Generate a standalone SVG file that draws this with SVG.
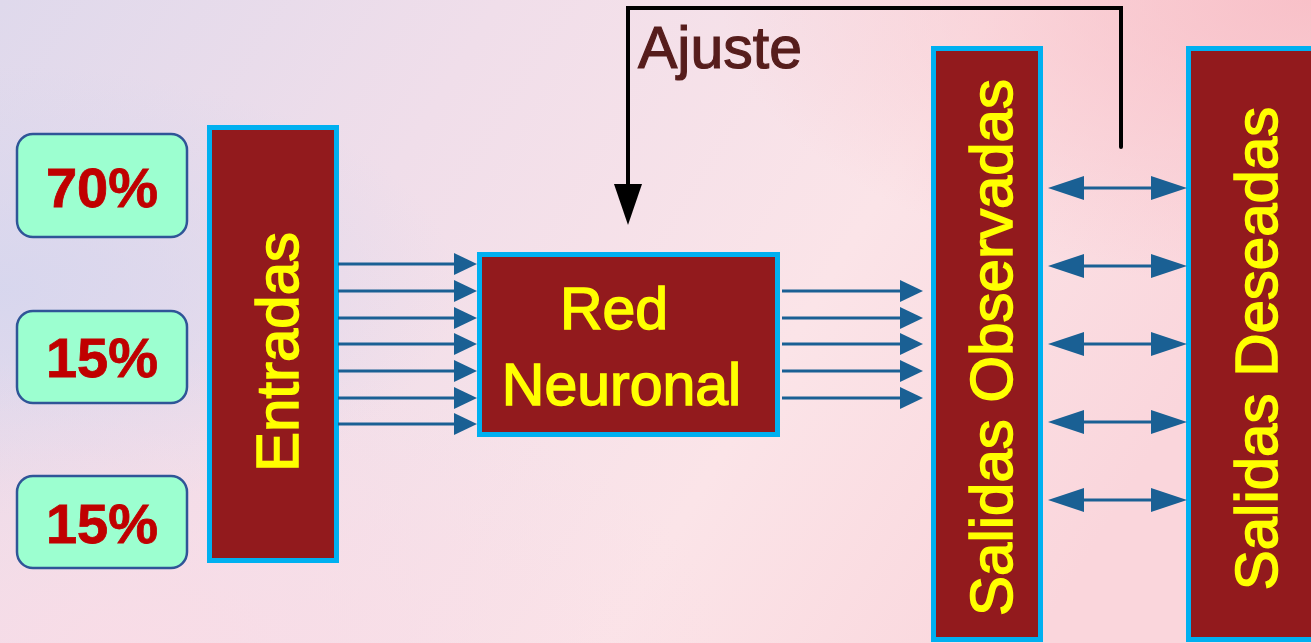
<svg xmlns="http://www.w3.org/2000/svg" width="1311" height="643" viewBox="0 0 1311 643">
  <defs>
    <linearGradient id="bg" x1="0" y1="0" x2="1" y2="0.3">
      <stop offset="0" stop-color="#DFD9EC"/>
      <stop offset="0.35" stop-color="#F0DEEA"/>
      <stop offset="0.7" stop-color="#FBE4E8"/>
      <stop offset="1" stop-color="#FAD6DC"/>
    </linearGradient>
    <radialGradient id="lm" cx="0" cy="0.45" r="0.35">
      <stop offset="0" stop-color="#D6D6EE" stop-opacity="0.9"/>
      <stop offset="1" stop-color="#D6D6EE" stop-opacity="0"/>
    </radialGradient>
    <radialGradient id="tr" cx="1" cy="0" r="0.45">
      <stop offset="0" stop-color="#F8BEC6" stop-opacity="0.9"/>
      <stop offset="1" stop-color="#F8BEC6" stop-opacity="0"/>
    </radialGradient>
    <radialGradient id="bl" cx="0.1" cy="1" r="0.45">
      <stop offset="0" stop-color="#F9DCE6" stop-opacity="0.9"/>
      <stop offset="1" stop-color="#F9DCE6" stop-opacity="0"/>
    </radialGradient>
    <marker id="ah" markerUnits="userSpaceOnUse" markerWidth="23" markerHeight="22" viewBox="0 0 23 22" refX="11" refY="11" orient="auto">
      <path d="M0,0 L23,11 L0,22 z" fill="#1A6094"/>
    </marker>
    <marker id="dh" markerUnits="userSpaceOnUse" markerWidth="36" markerHeight="24" viewBox="0 0 36 24" refX="22" refY="12" orient="auto-start-reverse">
      <path d="M0,0 L36,12 L0,24 z" fill="#1A6094"/>
    </marker>
  </defs>
  <style>
    .pct { fill: #9CFFD0; stroke: #2F5597; stroke-width: 2.5; }
    .pt { font-family: "Liberation Sans", Arial, sans-serif; font-weight: bold; font-size: 56px; fill: #C00000; stroke: #C00000; stroke-width: 0.8px; text-anchor: middle; }
    .blk { fill: #921A1D; stroke: #00B0F0; stroke-width: 5; }
    .yt { font-family: "Liberation Sans", Arial, sans-serif; font-size: 60px; fill: #FFFF00; stroke: #FFFF00; stroke-width: 1.5px; text-anchor: middle; }
    .aj { font-family: "Liberation Sans", Arial, sans-serif; font-size: 59px; fill: #561D1C; stroke: #561D1C; stroke-width: 1.2px; }
    .ar { stroke: #1A6094; stroke-width: 3; fill: none; marker-end: url(#ah); }
    .da { stroke: #1A6094; stroke-width: 3; fill: none; marker-start: url(#dh); marker-end: url(#dh); }
  </style>
  <rect width="1311" height="643" fill="url(#bg)"/>
  <rect width="1311" height="643" fill="url(#lm)"/>
  <rect width="1311" height="643" fill="url(#tr)"/>
  <rect width="1311" height="643" fill="url(#bl)"/>

  <g id="pct70">
    <rect class="pct" x="17" y="134" width="170" height="103" rx="16"/>
    <text class="pt" x="102" y="207">70%</text>
  </g>
  <g id="pct15a">
    <rect class="pct" x="17" y="311" width="170" height="92" rx="16"/>
    <text class="pt" x="102" y="377">15%</text>
  </g>
  <g id="pct15b">
    <rect class="pct" x="17" y="476" width="170" height="92" rx="16"/>
    <text class="pt" x="102" y="543">15%</text>
  </g>

  <g id="entradas">
    <rect class="blk" x="209.5" y="127.5" width="127" height="433"/>
    <text class="yt" transform="translate(298,352) rotate(-90)">Entradas</text>
  </g>

  <g id="red-neuronal">
    <rect class="blk" x="479.5" y="254.5" width="298" height="180"/>
    <text class="yt" x="614" y="329" style="font-size:59px">Red</text>
    <text class="yt" x="621.5" y="405" style="font-size:59px">Neuronal</text>
  </g>

  <g id="salidas-observadas">
    <rect class="blk" x="933.5" y="48.5" width="107" height="591"/>
    <text class="yt" transform="translate(1012,347.5) rotate(-90)">Salidas Observadas</text>
  </g>

  <g id="salidas-deseadas">
    <rect class="blk" x="1188.5" y="48.5" width="200" height="591"/>
    <text class="yt" transform="translate(1277,348.5) rotate(-90)">Salidas Deseadas</text>
  </g>

  <g id="ajuste-label">
    <text class="aj" x="638" y="68">Ajuste</text>
  </g>

  <g id="connectors">
    <line class="ar" x1="338" y1="264" x2="465" y2="264"/>
    <line class="ar" x1="338" y1="291" x2="465" y2="291"/>
    <line class="ar" x1="338" y1="318" x2="465" y2="318"/>
    <line class="ar" x1="338" y1="344" x2="465" y2="344"/>
    <line class="ar" x1="338" y1="371" x2="465" y2="371"/>
    <line class="ar" x1="338" y1="398" x2="465" y2="398"/>
    <line class="ar" x1="338" y1="424" x2="465" y2="424"/>

    <line class="ar" x1="782" y1="291" x2="911" y2="291"/>
    <line class="ar" x1="782" y1="318" x2="911" y2="318"/>
    <line class="ar" x1="782" y1="344" x2="911" y2="344"/>
    <line class="ar" x1="782" y1="371" x2="911" y2="371"/>
    <line class="ar" x1="782" y1="398" x2="911" y2="398"/>

    <line class="da" x1="1062" y1="188" x2="1173" y2="188"/>
    <line class="da" x1="1062" y1="266" x2="1173" y2="266"/>
    <line class="da" x1="1062" y1="344" x2="1173" y2="344"/>
    <line class="da" x1="1062" y1="422" x2="1173" y2="422"/>
    <line class="da" x1="1062" y1="500" x2="1173" y2="500"/>

    <path d="M1121,147 V8 H628 V190" fill="none" stroke="#000" stroke-width="4" stroke-linecap="round" stroke-linejoin="miter"/>
    <polygon points="614,184 642,184 628,225" fill="#000"/>
  </g>
</svg>
